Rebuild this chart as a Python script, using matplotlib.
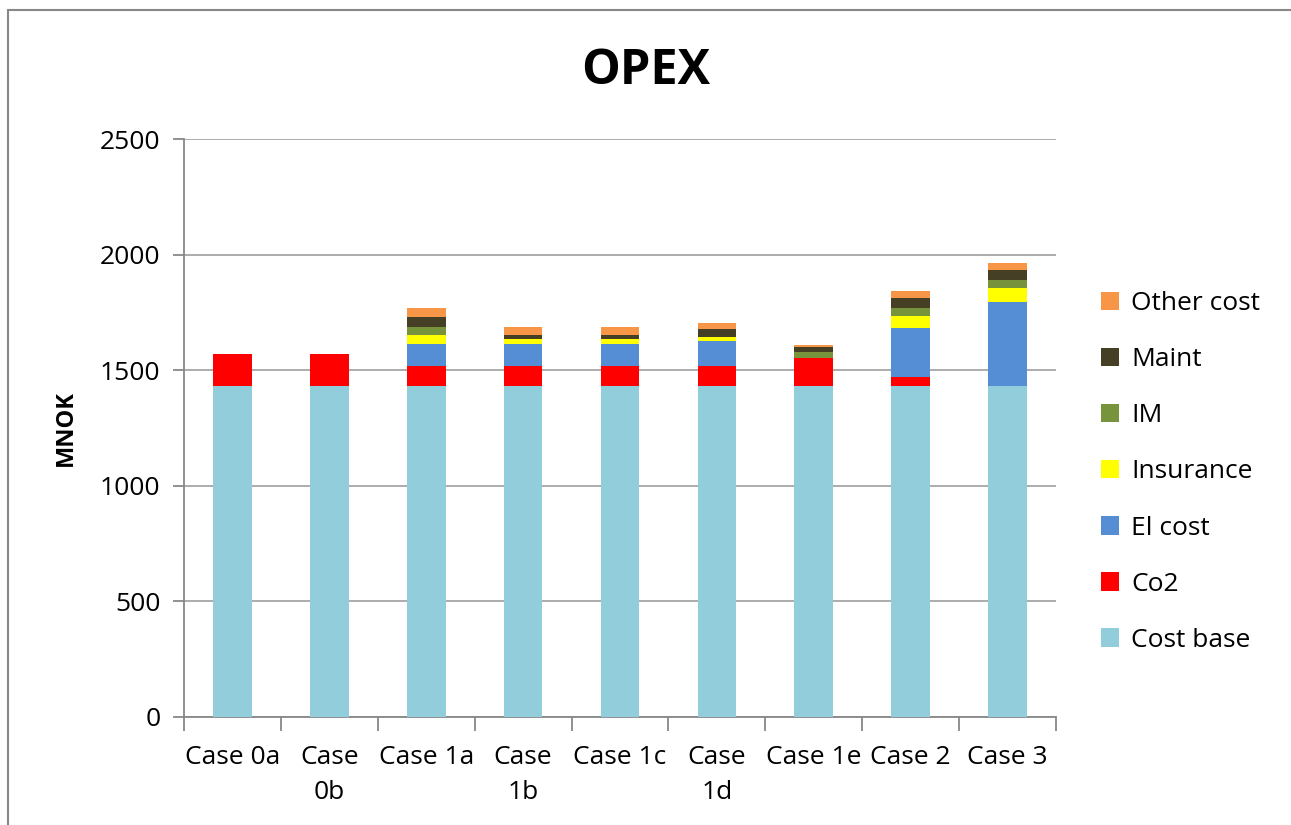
import matplotlib.pyplot as plt
import numpy as np
from matplotlib.patches import Rectangle

plt.rcParams['font.family'] = ['Open Sans', 'DejaVu Sans']

cases = ['Case 0a', 'Case\n0b', 'Case 1a', 'Case\n1b', 'Case 1c', 'Case\n1d',
         'Case 1e', 'Case 2', 'Case 3']

cost_base = [1430, 1430, 1430, 1430, 1430, 1430, 1430, 1430, 1430]
co2       = [140, 140, 88, 88, 88, 88, 121, 42, 0]
el_cost   = [0, 0, 95, 95, 95, 110, 0, 212, 364]
insurance = [0, 0, 39, 21, 21, 17, 0, 52, 63]
im        = [0, 0, 34, 0, 0, 0, 29, 32, 33]
maint     = [0, 0, 43, 18, 18, 32, 19, 43, 43]
other     = [0, 0, 39, 34, 34, 26, 9, 33, 32]

series = [('Cost base', cost_base, '#92CDDC'),
          ('Co2', co2, '#FF0000'),
          ('El cost', el_cost, '#558ED5'),
          ('Insurance', insurance, '#FFFF00'),
          ('IM', im, '#77933C'),
          ('Maint', maint, '#453F26'),
          ('Other cost', other, '#F79646')]

W, H = 1291, 825
fig = plt.figure(figsize=(W / 100, H / 100), dpi=100)
ax = fig.add_axes([184 / W, 1 - 717 / H, (1056 - 184) / W, (717 - 139) / H])

x = np.arange(len(cases))
bottom = np.zeros(len(cases))
handles = []
for name, vals, col in series:
    vals = np.array(vals, dtype=float)
    b = ax.bar(x, vals, 0.4, bottom=bottom, color=col, label=name, zorder=3)
    handles.append(b)
    bottom += vals

ax.set_xlim(-0.5, len(cases) - 0.5)
ax.set_ylim(0, 2500)
ax.set_yticks(np.arange(0, 2501, 500))
ax.yaxis.grid(True, color='#A6A6A6', linewidth=1.3, zorder=0)
ax.set_axisbelow(True)

ax.set_xticks(x)
ax.set_xticklabels(cases, fontsize=19, linespacing=1.55)
ax.tick_params(axis='x', length=0, pad=20)
ax.set_xticks(np.arange(-0.5, len(cases)), minor=True)
ax.tick_params(axis='x', which='minor', length=10, width=1.3, color='#888888')
ax.tick_params(axis='y', length=8, width=1.3, color='#888888', labelsize=19, pad=9)

for s in ['top', 'right']:
    ax.spines[s].set_visible(False)
for s in ['left', 'bottom']:
    ax.spines[s].set_color('#888888')
    ax.spines[s].set_linewidth(1.3)

ax.set_ylabel('MNOK', fontsize=17, fontweight='bold')
ax.yaxis.set_label_coords(-0.122, 0.5)
fig.text(0.5, 1 - 72 / H, 'OPEX', fontsize=35,
         fontweight='bold', ha='center', va='center')

leg = ax.legend(handles[::-1], [h.get_label() for h in handles[::-1]],
                loc='upper left', bbox_to_anchor=(1.024, 0.778), frameon=False,
                fontsize=19, handlelength=0.7, handleheight=0.7,
                handletextpad=0.45, labelspacing=1.18)

# outer chart frame
fig.patches.append(Rectangle((8 / W, -0.1), 1.2, 1.1 - 10 / H, transform=fig.transFigure,
                             fill=False, edgecolor='#888888', linewidth=1.5))

fig.savefig('out.png', dpi=100)
